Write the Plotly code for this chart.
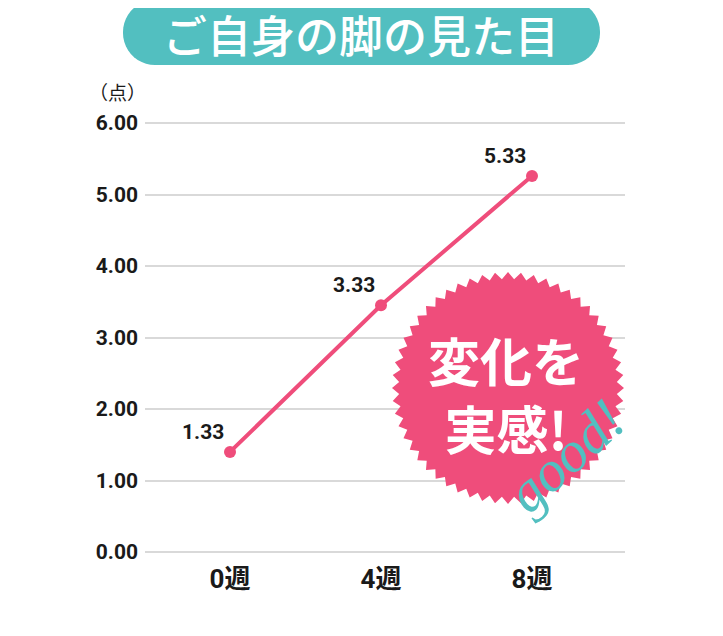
import numpy as np
import plotly.graph_objects as go

# data
weeks = ["0週", "4週", "8週"]
week_pos = [0, 1, 2]
scores = [1.40, 3.45, 5.26]
score_labels = ["1.33", "3.33", "5.33"]
y_ticks = [0, 1, 2, 3, 4, 5, 6]
y_tick_labels = ["0.00", "1.00", "2.00", "3.00", "4.00", "5.00", "6.00"]

PINK = "#EF4D7B"
TEAL = "#52BFC0"
GRID = "#D9D9D9"
NUM_FONT = "Roboto, Liberation Sans, sans-serif"
JP_FONT = "Noto Sans CJK JP, sans-serif"

# the page body has an 8px margin, so the figure is a bit smaller
# and every position below is given in window pixels
OFF = 8
W, H = 723 - OFF, 636 - OFF
ML, MR, MT, MB = 145 - OFF, 98, 120 - OFF, 80
PW = W - ML - MR
PH = H - MT - MB


def px(x):
    return (x - OFF - ML) / PW


def py(y):
    return (H - MB - (y - OFF)) / PH


def starburst(cx, cy, r_out, r_in, n):
    ang = np.linspace(0, 2 * np.pi, 2 * n, endpoint=False) - np.pi / 2
    rad = np.where(np.arange(2 * n) % 2 == 0, r_out, r_in)
    xs = cx + rad * np.cos(ang)
    ys = cy + rad * np.sin(ang)
    pts = [f"{px(a):.5f},{py(b):.5f}" for a, b in zip(xs, ys)]
    return "M " + " L ".join(pts) + " Z"


def rounded_rect(x0, y0, x1, y1, r):
    p = []
    corners = [
        (x1 - r, y0 + r, -np.pi / 2, 0),
        (x1 - r, y1 - r, 0, np.pi / 2),
        (x0 + r, y1 - r, np.pi / 2, np.pi),
        (x0 + r, y0 + r, np.pi, 1.5 * np.pi),
    ]
    for cx, cy, a0, a1 in corners:
        for a in np.linspace(a0, a1, 12):
            p.append(f"{px(cx + r * np.cos(a)):.5f},{py(cy + r * np.sin(a)):.5f}")
    return "M " + " L ".join(p) + " Z"


fig = go.Figure()
fig.add_trace(
    go.Scatter(
        x=week_pos,
        y=scores,
        mode="lines+markers",
        line={"color": PINK, "width": 4},
        marker={"color": PINK, "size": 12},
        hoverinfo="skip",
        showlegend=False,
    )
)

for xv, yv, lab in zip(week_pos, scores, score_labels):
    fig.add_annotation(
        x=xv, y=yv, text=lab, showarrow=False,
        xshift=-27, yshift=20,
        font={"family": NUM_FONT, "size": 21, "color": "#1a1a1a", "weight": "bold"},
    )

fig.update_layout(shapes=[
    {
        "type": "path", "xref": "paper", "yref": "paper",
        "path": rounded_rect(123, 0, 600, 65, 32),
        "fillcolor": TEAL, "line": {"width": 0}, "layer": "above",
    },
    {
        "type": "path", "xref": "paper", "yref": "paper",
        "path": starburst(508, 388, 116, 109, 56),
        "fillcolor": PINK, "line": {"width": 0}, "layer": "above",
    },
])

fig.add_annotation(
    xref="paper", yref="paper", x=px(361), y=py(34),
    text="ご自身の脚の見た目", showarrow=False,
    font={"family": JP_FONT, "size": 44, "color": "white", "weight": 500},
    xanchor="center", yanchor="middle",
)
fig.add_annotation(
    xref="paper", yref="paper", x=px(117), y=py(92),
    text="（点）", showarrow=False,
    font={"family": JP_FONT, "size": 19, "color": "#1a1a1a"},
    xanchor="center", yanchor="middle",
)
fig.add_annotation(
    xref="paper", yref="paper", x=px(506), y=py(393),
    text="変化を<br>実感!", showarrow=False,
    font={"family": JP_FONT, "size": 52, "color": "white", "weight": "bold"},
    xanchor="center", yanchor="middle", align="center",
)
fig.add_annotation(
    xref="paper", yref="paper", x=px(565), y=py(456),
    text="<i>good!</i>", showarrow=False, textangle=-42,
    font={"family": "Liberation Serif, serif", "size": 58, "color": TEAL},
    xanchor="center", yanchor="middle",
)

fig.update_xaxes(
    range=[-0.563, 2.616],
    tickvals=week_pos,
    ticktext=weeks,
    showgrid=False,
    zeroline=False,
    showline=False,
    ticks="",
    ticklabelstandoff=5,
    tickfont={"family": "Roboto, Noto Sans CJK JP, sans-serif", "size": 26, "color": "#1a1a1a", "weight": "bold"},
    fixedrange=True,
)
fig.update_yaxes(
    range=[-0.056, 6.042],
    tickvals=y_ticks,
    ticktext=y_tick_labels,
    showgrid=True,
    gridcolor=GRID,
    gridwidth=2,
    zeroline=False,
    showline=False,
    ticks="",
    ticklabelstandoff=6,
    tickfont={"family": NUM_FONT, "size": 21, "color": "#1a1a1a", "weight": "bold"},
    fixedrange=True,
)
fig.update_layout(
    width=W,
    height=H,
    margin={"l": ML, "r": MR, "t": MT, "b": MB, "autoexpand": False},
    paper_bgcolor="white",
    plot_bgcolor="white",
    showlegend=False,
)

fig.write_html("out.html")
